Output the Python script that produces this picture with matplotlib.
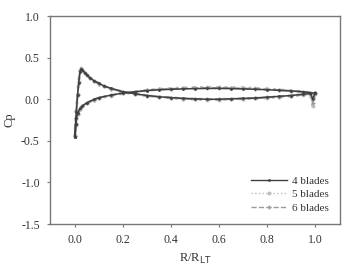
import numpy as np
import matplotlib
matplotlib.use("Agg")
import matplotlib.pyplot as plt

plt.rcParams['font.family'] = ['Liberation Serif', 'DejaVu Serif']

# surface points, trailing edge -> leading edge (upper) then leading edge -> trailing edge (lower)
x_upper = [1.0, 0.98, 0.95, 0.9, 0.85, 0.8, 0.75, 0.7, 0.65, 0.6, 0.55, 0.5, 0.45, 0.4,
           0.35, 0.3, 0.25, 0.2, 0.15, 0.12, 0.1, 0.08, 0.06, 0.05, 0.04, 0.03, 0.025,
           0.02, 0.015, 0.01, 0.005, 0.002, 0.0]
x_lower = [0.0, 0.002, 0.005, 0.01, 0.02, 0.03, 0.05, 0.08, 0.1, 0.15, 0.2, 0.25, 0.3,
           0.35, 0.4, 0.45, 0.5, 0.55, 0.6, 0.65, 0.7, 0.75, 0.8, 0.85, 0.9, 0.95, 0.98,
           0.99, 1.0]

cp4_upper = [0.08, 0.07, 0.06, 0.045, 0.035, 0.025, 0.015, 0.01, 0.005, 0.0, 0.0, 0.005,
             0.01, 0.02, 0.03, 0.045, 0.065, 0.09, 0.13, 0.16, 0.19, 0.22, 0.26, 0.29,
             0.32, 0.355, 0.365, 0.33, 0.2, 0.05, -0.15, -0.3, -0.45]
cp4_lower = [-0.45, -0.3, -0.22, -0.17, -0.11, -0.08, -0.04, 0.0, 0.02, 0.05, 0.075,
             0.09, 0.105, 0.115, 0.12, 0.125, 0.128, 0.13, 0.13, 0.128, 0.125, 0.12,
             0.115, 0.108, 0.1, 0.09, 0.08, 0.0, 0.08]

cp5_upper = [0.07, 0.065, 0.055, 0.04, 0.03, 0.02, 0.012, 0.006, 0.002, -0.003, -0.003,
             0.002, 0.008, 0.017, 0.028, 0.042, 0.062, 0.088, 0.128, 0.158, 0.188, 0.218,
             0.258, 0.288, 0.318, 0.35, 0.37, 0.34, 0.21, 0.06, -0.14, -0.3, -0.44]
cp5_lower = [-0.44, -0.31, -0.23, -0.18, -0.12, -0.085, -0.045, -0.005, 0.015, 0.045,
             0.072, 0.09, 0.108, 0.12, 0.128, 0.135, 0.14, 0.142, 0.142, 0.14, 0.136,
             0.13, 0.122, 0.112, 0.102, 0.09, 0.075, -0.08, 0.06]

cp6_upper = [0.075, 0.068, 0.058, 0.043, 0.032, 0.022, 0.013, 0.008, 0.003, -0.002,
             -0.002, 0.003, 0.009, 0.018, 0.029, 0.044, 0.064, 0.089, 0.129, 0.159, 0.189,
             0.219, 0.259, 0.289, 0.319, 0.352, 0.368, 0.335, 0.205, 0.055, -0.145, -0.3,
             -0.445]
cp6_lower = [-0.445, -0.305, -0.225, -0.175, -0.115, -0.082, -0.042, -0.003, 0.018,
             0.048, 0.074, 0.09, 0.106, 0.118, 0.124, 0.13, 0.134, 0.136, 0.136, 0.134,
             0.13, 0.125, 0.118, 0.11, 0.101, 0.09, 0.078, -0.04, 0.07]

labels = ['4 blades', '5 blades', '6 blades']

fig = plt.figure(figsize=(3.46, 2.68), dpi=100)
ax = fig.add_axes([0.145, 0.164, 0.838, 0.776])

styles = [dict(color='#404040', linestyle='-', marker='.', markersize=2, linewidth=1.1, zorder=4),
          dict(color='#bdbdbd', linestyle=':', marker='o', markersize=1.8, linewidth=2.2, zorder=2),
          dict(color='#9a9a9a', linestyle='--', marker='+', markersize=2.5, linewidth=1.4, zorder=3)]

series = [(cp4_upper, cp4_lower), (cp5_upper, cp5_lower), (cp6_upper, cp6_lower)]
for (up, lo), lab, st in zip(series, labels, styles):
    ax.plot(x_upper + x_lower, up + lo, label=lab, **st)

ax.set_xlim(-0.104, 1.104)
ax.set_ylim(-1.5, 1.0)
ax.set_xticks([0.0, 0.2, 0.4, 0.6, 0.8, 1.0])
ax.set_yticks([-1.5, -1.0, -0.5, 0.0, 0.5, 1.0])
ax.xaxis.set_major_formatter(matplotlib.ticker.FormatStrFormatter('%.1f'))
ax.yaxis.set_major_formatter(matplotlib.ticker.FormatStrFormatter('%.1f'))

for s in ax.spines.values():
    s.set_color('#777777')
    s.set_linewidth(1.0)
ax.tick_params(direction='out', length=2.5, width=0.8, color='#777777',
               labelsize=8.5, labelcolor='#333333', pad=5)

ax.set_xlabel('R/R$_{\\mathrm{LT}}$', fontsize=9, color='#333333', labelpad=4)
ax.set_ylabel('Cp', fontsize=9, color='#333333', labelpad=4)

leg = ax.legend(loc='lower right', frameon=False, fontsize=8, handlelength=3.2,
                labelspacing=0.35, borderaxespad=0.6, handletextpad=0.5)
for t in leg.get_texts():
    t.set_color('#333333')
for h in leg.legend_handles:
    h.set_linewidth(1.0)

fig.savefig('out.png', dpi=100)
